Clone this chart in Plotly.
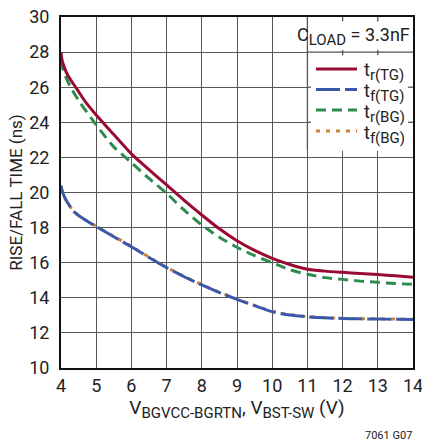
import plotly.graph_objects as go

# ---- data ----
x_tr_tg = [4.0, 4.03, 4.1, 4.2, 4.45, 4.7, 5.0, 5.5, 6.0, 6.5, 7.0, 7.5, 8.0, 8.5, 9.0, 9.5, 10.0, 10.5, 11.0, 11.5, 12.0, 12.5, 13.0, 13.5, 14.0]
tr_tg = [28.0, 27.55, 27.1, 26.65, 25.9, 25.15, 24.42, 23.3, 22.2, 21.3, 20.43, 19.55, 18.72, 17.93, 17.25, 16.7, 16.25, 15.9, 15.63, 15.52, 15.45, 15.39, 15.33, 15.25, 15.17]

x_tf_tg = [4.0, 4.04, 4.1, 4.2, 4.4, 4.7, 5.0, 5.5, 6.0, 6.5, 7.0, 7.5, 8.0, 8.5, 9.0, 9.5, 10.0, 10.5, 11.0, 11.5, 12.0, 12.5, 13.0, 13.5, 14.0]
tf_tg = [20.4, 20.05, 19.75, 19.38, 18.85, 18.42, 18.06, 17.48, 16.91, 16.3, 15.72, 15.2, 14.73, 14.3, 13.91, 13.55, 13.21, 13.02, 12.92, 12.86, 12.82, 12.8, 12.79, 12.78, 12.77]

x_tr_bg = [4.0, 4.04, 4.12, 4.26, 4.5, 5.0, 5.5, 6.0, 6.5, 7.0, 7.5, 8.0, 8.5, 9.0, 9.5, 10.0, 10.5, 11.0, 11.5, 12.0, 12.5, 13.0, 13.5, 14.0]
tr_bg = [27.5, 27.15, 26.65, 26.05, 25.25, 23.85, 22.6, 21.7, 20.8, 19.95, 19.0, 18.15, 17.45, 16.88, 16.4, 16.0, 15.6, 15.34, 15.15, 15.05, 14.95, 14.88, 14.81, 14.77]

x_tf_bg = [4.0, 4.04, 4.1, 4.2, 4.4, 4.7, 5.0, 5.5, 6.0, 6.5, 7.0, 7.5, 8.0, 8.5, 9.0, 9.5, 10.0, 10.5, 11.0, 11.5, 12.0, 12.5, 13.0, 13.5, 14.0]
tf_bg = [20.3, 20.0, 19.72, 19.36, 18.85, 18.43, 18.08, 17.5, 16.93, 16.32, 15.74, 15.22, 14.75, 14.32, 13.93, 13.57, 13.23, 13.04, 12.93, 12.87, 12.83, 12.81, 12.8, 12.79, 12.78]

x_ticks = [4, 5, 6, 7, 8, 9, 10, 11, 12, 13, 14]
y_ticks = [10, 12, 14, 16, 18, 20, 22, 24, 26, 28, 30]

series_names = ["r(TG)", "f(TG)", "r(BG)", "f(BG)"]
series_colors = ["#990B32", "#3A59AA", "#2E8B4E", "#C8843C"]
series_dash = ["solid", "24px,5px", "10px,6px", "4px,6px"]

FONT = "Roboto, DejaVu Sans, sans-serif"
GRID = "#555555"
TXT = "#222222"

# plot-area geometry in pixels (for paper-coordinate placement of decorations)
L, R, T, B = 61, 9, 17, 74
W, H = 422, 442
PW, PH = W - L - R, H - T - B


def px_x(p):
    return (p - L) / PW


def px_y(p):
    return (H - B - p) / PH


def fnt(size):
    return dict(size=size, family=FONT, color=TXT)


def sub(main, s, size):
    return f"{main}<sub><span style='font-size:{size}px'>{s}</span></sub>"


fig = go.Figure()
data = [(x_tr_tg, tr_tg), (x_tf_tg, tf_tg), (x_tr_bg, tr_bg), (x_tf_bg, tf_bg)]
for idx in [3, 2, 1, 0]:
    xs, ys = data[idx]
    fig.add_trace(go.Scatter(x=xs, y=ys, mode="lines", name="t" + series_names[idx], showlegend=False,
                             line=dict(color=series_colors[idx], width=3, dash=series_dash[idx],
                                       shape="spline", smoothing=0.7)))

shapes = []
shapes.append(dict(type="rect", xref="x", yref="y", x0=11, x1=14, y0=22.38, y1=30,
                   fillcolor="white", line=dict(width=0), layer="between"))
shapes.append(dict(type="line", xref="x", yref="y", x0=11, x1=11, y0=22.38, y1=30,
                   line=dict(color=GRID, width=1.3), layer="between"))
shapes.append(dict(type="line", xref="x", yref="y", x0=11, x1=14, y0=28, y1=28,
                   line=dict(color=GRID, width=1.3), layer="between"))
for xv in [12, 13]:
    shapes.append(dict(type="line", xref="x", yref="y", x0=xv, x1=xv, y0=30 - 0.25, y1=30,
                       line=dict(color=GRID, width=1.3), layer="between"))
    shapes.append(dict(type="line", xref="x", yref="y", x0=xv, x1=xv, y0=28 - 0.18, y1=28 + 0.12,
                       line=dict(color=GRID, width=1.3), layer="between"))
for yv in [26, 24]:
    shapes.append(dict(type="line", xref="x", yref="y", x0=14 - 0.14, x1=14, y0=yv, y1=yv,
                       line=dict(color=GRID, width=1.3), layer="between"))
    shapes.append(dict(type="line", xref="x", yref="y", x0=11, x1=11 + 0.1, y0=yv, y1=yv,
                       line=dict(color=GRID, width=1.3), layer="between"))

annotations = []
legend_y = [69, 89.5, 110, 131]
for i in range(4):
    shapes.append(dict(type="line", xref="paper", yref="paper", x0=px_x(316), x1=px_x(357),
                       y0=px_y(legend_y[i]), y1=px_y(legend_y[i]),
                       line=dict(color=series_colors[i], width=3, dash=series_dash[i]), layer="above"))
    annotations.append(dict(text=sub("t", series_names[i], 15), xref="paper", yref="paper",
                            x=px_x(362), y=px_y(legend_y[i] + 3), xanchor="left", yanchor="middle",
                            showarrow=False, font=fnt(18)))

annotations.append(dict(text=sub("C", "LOAD", 15) + " = 3.3nF", xref="paper", yref="paper",
                        x=px_x(412), y=px_y(36), xanchor="right", yanchor="middle",
                        showarrow=False, font=fnt(18)))
annotations.append(dict(text="7061 G07", xref="paper", yref="paper", x=px_x(414), y=px_y(436),
                        xanchor="right", yanchor="middle", showarrow=False, font=fnt(11)))

fig.update_layout(
    width=W, height=H,
    margin=dict(l=L, r=R, t=T, b=B, autoexpand=False),
    paper_bgcolor="white", plot_bgcolor="white",
    font=fnt(16),
    shapes=shapes,
    annotations=annotations,
    showlegend=False,
)
fig.update_xaxes(range=[4, 14], tickvals=x_ticks, ticktext=[str(v) for v in x_ticks],
                 showgrid=True, gridcolor=GRID, gridwidth=1.3, zeroline=False,
                 showline=True, linecolor="#111111", linewidth=2, mirror=True, automargin=False,
                 ticklabeloverflow="allow",
                 ticks="", tickfont=fnt(18),
                 title=dict(text=sub("V", "BGVCC-BGRTN", 15) + ", " + sub("V", "BST-SW", 15) + " (V)",
                            font=fnt(19), standoff=5))
fig.update_yaxes(range=[10, 30], tickvals=y_ticks, ticktext=[str(v) for v in y_ticks],
                 showgrid=True, gridcolor=GRID, gridwidth=1.3, zeroline=False,
                 showline=True, linecolor="#111111", linewidth=2, mirror=True, automargin=False,
                 ticklabeloverflow="allow",
                 ticks="", tickfont=fnt(18), ticklabelstandoff=6,
                 title=dict(text="RISE/FALL TIME (ns)", font=fnt(17), standoff=2))

fig.write_html("out.html")
